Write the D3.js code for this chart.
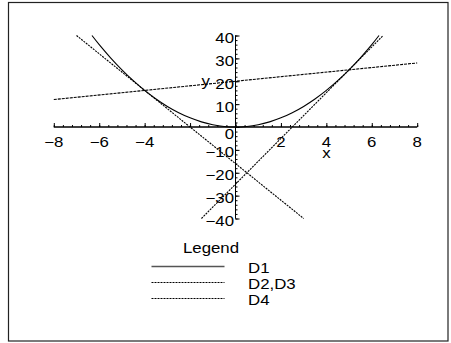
<!DOCTYPE html>
<html>
<head>
<meta charset="utf-8">
<script src="https://cdn.jsdelivr.net/npm/d3@7"></script>
<style>
  body { margin: 0; background: #fff; }
  text { font-family: "Liberation Sans", Arial, sans-serif; fill: #000; font-size: 14.5px; }
</style>
</head>
<body>
<svg id="chart" width="451" height="343"></svg>
<script>
var d1X = [-6.32, -6, -5.5, -5, -4.5, -4, -3.5, -3, -2.5, -2, -1.5, -1, -0.5, 0, 0.5, 1, 1.5, 2, 2.5, 3, 3.5, 4, 4.5, 5, 5.5, 6, 6.32];
var d1Y = [40, 36, 30.25, 25, 20.25, 16, 12.25, 9, 6.25, 4, 2.25, 1, 0.25, 0, 0.25, 1, 2.25, 4, 6.25, 9, 12.25, 16, 20.25, 25, 30.25, 36, 40];
// D2, D3: the two tangents (end points)
var d2X = [-7, 3], d2Y = [40, -40];
var d3X = [-1.5, 6.5], d3Y = [-40, 40];
// D4: the secant
var d4X = [-8, 8], d4Y = [12, 28];

var xLabels = [-8, -6, -4, 2, 4, 6, 8];
var yLabels = [40, 30, 20, 10, 0, -10, -20, -30, -40];
var legendNames = ["D1", "D2,D3", "D4"];

var svg = d3.select("#chart");
var stretch = 1.16; // the reference text is drawn a bit wide

var x = d3.scaleLinear().domain([-8, 8]).range([53.8, 417.2]);
var y = d3.scaleLinear().domain([-40, 40]).range([218.5, 35.5]);

var minus = function (v) { return String(v).replace("-", "\u2212"); };

function label(parent, px, py, anchor, str) {
    return parent.append("text")
        .attr("transform", "translate(" + px + "," + py + ") scale(" + stretch + ",1)")
        .attr("text-anchor", anchor)
        .text(str);
}

// frame
svg.append("rect")
    .attr("x", 8.5).attr("y", 2.5)
    .attr("width", 439.5).attr("height", 338.5)
    .attr("fill", "none")
    .attr("stroke", "#222")
    .attr("stroke-width", 1.2);

// x axis, ticks point up
var xAxisG = svg.append("g").attr("transform", "translate(0," + y(0) + ")");
xAxisG.call(d3.axisTop(x).tickValues(d3.range(-8, 8.01, 0.4)).tickSize(2).tickFormat(""));
xAxisG.append("g").call(d3.axisTop(x).tickValues(d3.range(-8, 8.01, 2)).tickSize(4).tickFormat(""));
xAxisG.selectAll(".domain").attr("d", "M" + x(-8) + ",0H" + x(8));
xAxisG.selectAll("line, path").attr("stroke", "#000");

xLabels.forEach(function (d) {
    label(xAxisG, x(d), 19.5, "middle", minus(d));
});

// y axis, ticks point right
var yAxisG = svg.append("g").attr("transform", "translate(" + x(0) + ",0)");
yAxisG.call(d3.axisRight(y).tickValues(d3.range(-40, 40.01, 2)).tickSize(2).tickFormat(""));
yAxisG.append("g").call(d3.axisRight(y).tickValues(d3.range(-40, 40.01, 10)).tickSize(4).tickFormat(""));
yAxisG.selectAll(".domain").attr("d", "M0," + y(-40) + "V" + y(40));
yAxisG.selectAll("line, path").attr("stroke", "#000");

yLabels.forEach(function (d) {
    label(yAxisG, -1.5, y(d) + (d === 0 ? 12 : 7.5), "end", minus(d));
});

// axis names
label(svg, x(4), 157.5, "middle", "x");
label(svg, 210, y(20) + 4.5, "end", "y");

// curves
var line = d3.line()
    .x(function (d) { return x(d[0]); })
    .y(function (d) { return y(d[1]); });

var series = [
    { xs: d1X, ys: d1Y, dash: null, curve: d3.curveNatural },
    { xs: d2X, ys: d2Y, dash: "2,1", curve: d3.curveLinear },
    { xs: d3X, ys: d3Y, dash: "2,1", curve: d3.curveLinear },
    { xs: d4X, ys: d4Y, dash: "3,1", curve: d3.curveLinear }
];

series.forEach(function (s) {
    svg.append("path")
        .datum(d3.zip(s.xs, s.ys))
        .attr("fill", "none")
        .attr("stroke", "#000")
        .attr("stroke-width", 1.1)
        .attr("stroke-dasharray", s.dash)
        .attr("d", line.curve(s.curve));
});

// legend
label(svg, 211, 253, "middle", "Legend");

var legendDash = [null, "2,1", "2,1"];
var legendY = [266.5, 282.5, 298.5];
var lg = svg.append("g");

legendNames.forEach(function (d, i) {
    lg.append("line")
        .attr("x1", 151.5).attr("x2", 224.5)
        .attr("y1", legendY[i]).attr("y2", legendY[i])
        .attr("stroke", i === 0 ? "#555" : "#000")
        .attr("stroke-width", i === 0 ? 1.6 : 1)
        .attr("stroke-dasharray", legendDash[i]);
    label(lg, 248, legendY[i] + 6, "start", d);
});
</script>
</body>
</html>
